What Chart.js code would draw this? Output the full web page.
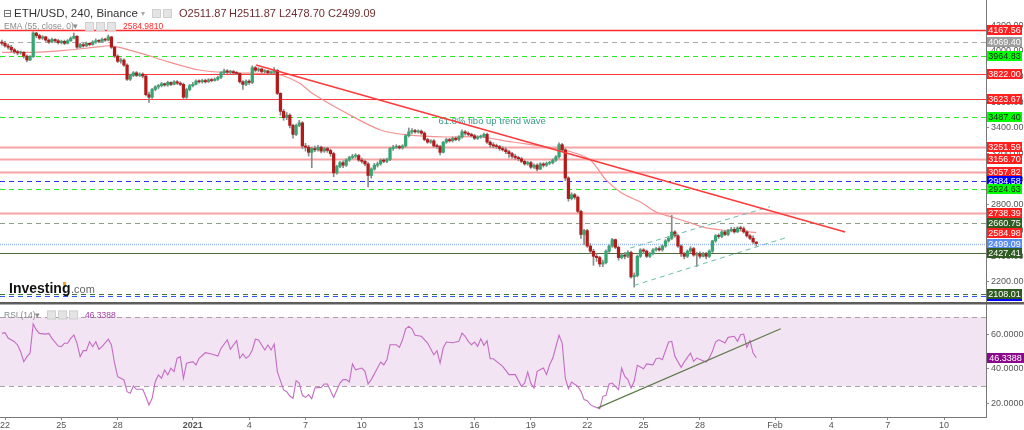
<!DOCTYPE html>
<html>
<head>
<meta charset="utf-8">
<script src="https://cdn.jsdelivr.net/npm/chart.js@4.4.1/dist/chart.umd.min.js"></script>
<style>
  html, body { margin: 0; padding: 0; background: #fff; overflow: hidden; }
  canvas { display: block; }
</style>
</head>
<body>
<canvas id="chart" width="1024" height="430"></canvas>
<script>
// 4h candles, index 0 = Dec 21 20:00, one index = 4 hours
const opens = [
  4070,4060,4040,4030,4010,3995,3985,3990,3960,3930,
  3955,4140,4120,4100,4110,4085,4070,4090,4080,4065,
  4075,4060,4080,4100,4115,4030,4050,4040,4060,4050,
  4070,4080,4075,4090,4085,4110,4030,3960,3920,3930,
  3890,3780,3810,3830,3810,3820,3805,3660,3640,3700,
  3720,3730,3745,3735,3755,3740,3760,3750,3740,3640,
  3700,3730,3740,3765,3760,3770,3760,3775,3770,3780,
  3795,3830,3845,3835,3840,3830,3825,3760,3740,3765,
  3755,3870,3850,3860,3840,3845,3830,3835,3850,3670,
  3530,3480,3500,3420,3350,3420,3440,3260,3250,3210,
  3240,3230,3250,3220,3240,3225,3200,3050,3100,3130,
  3110,3150,3170,3180,3185,3150,3140,3120,3030,3080,
  3110,3120,3150,3140,3155,3240,3250,3255,3245,3260,
  3340,3370,3380,3370,3375,3360,3310,3290,3300,3260,
  3255,3210,3290,3310,3300,3320,3310,3330,3370,3360,
  3350,3340,3320,3330,3335,3350,3290,3270,3260,3255,
  3240,3230,3215,3200,3180,3170,3160,3140,3120,3130,
  3095,3110,3080,3120,3110,3125,3130,3150,3175,3270,
  3230,3010,2850,2880,2860,2750,2570,2600,2480,2440,
  2400,2390,2340,2350,2440,2480,2530,2470,2390,2410,
  2400,2430,2240,2250,2400,2450,2440,2400,2420,2450,
  2460,2450,2480,2520,2540,2590,2560,2480,2420,2400,
  2440,2460,2410,2420,2400,2420,2400,2440,2520,2560,
  2555,2590,2570,2600,2610,2590,2620,2615,2590,2560,
  2540,2511.87
];
const closes = [
  4060,4040,4030,4010,3995,3985,3990,3960,3930,3955,
  4140,4120,4100,4110,4085,4070,4090,4080,4065,4075,
  4060,4080,4100,4115,4030,4050,4040,4060,4050,4070,
  4080,4075,4090,4085,4110,4030,3960,3920,3930,3890,
  3780,3810,3830,3810,3820,3805,3660,3640,3700,3720,
  3730,3745,3735,3755,3740,3760,3750,3740,3640,3700,
  3730,3740,3765,3760,3770,3760,3775,3770,3780,3795,
  3830,3845,3835,3840,3830,3825,3760,3740,3765,3755,
  3870,3850,3860,3840,3845,3830,3835,3850,3670,3530,
  3480,3500,3420,3350,3420,3440,3260,3250,3210,3240,
  3230,3250,3220,3240,3225,3200,3050,3100,3130,3110,
  3150,3170,3180,3185,3150,3140,3120,3030,3080,3110,
  3120,3150,3140,3155,3240,3250,3255,3245,3260,3340,
  3370,3380,3370,3375,3360,3310,3290,3300,3260,3255,
  3210,3290,3310,3300,3320,3310,3330,3370,3360,3350,
  3340,3320,3330,3335,3350,3290,3270,3260,3255,3240,
  3230,3215,3200,3180,3170,3160,3140,3120,3130,3095,
  3110,3080,3120,3110,3125,3130,3150,3175,3270,3230,
  3010,2850,2880,2860,2750,2570,2600,2480,2440,2400,
  2390,2340,2350,2440,2480,2530,2470,2390,2410,2400,
  2430,2240,2250,2400,2450,2440,2400,2420,2450,2460,
  2450,2480,2520,2540,2590,2560,2480,2420,2400,2440,
  2460,2410,2420,2400,2420,2400,2440,2520,2560,2555,
  2590,2570,2600,2610,2590,2620,2615,2590,2560,2540,
  2511.87,2499.09
];
const highs = [
  4085,4075,4055,4045,4020,4005,4000,3995,3970,3965,
  4150,4145,4130,4120,4115,4095,4100,4095,4090,4085,
  4085,4090,4110,4140,4120,4060,4060,4070,4065,4080,
  4095,4090,4100,4100,4125,4115,4035,3970,3945,3940,
  3900,3820,3840,3840,3830,3830,3810,3680,3710,3730,
  3740,3755,3750,3765,3760,3770,3770,3760,3750,3710,
  3740,3755,3775,3775,3780,3780,3785,3785,3790,3805,
  3840,3860,3855,3850,3850,3840,3830,3770,3775,3775,
  3885,3880,3870,3865,3855,3850,3845,3870,3855,3675,
  3545,3520,3510,3430,3430,3460,3450,3280,3265,3250,
  3260,3265,3260,3250,3250,3235,3210,3110,3140,3145,
  3160,3180,3195,3200,3195,3165,3150,3130,3090,3125,
  3135,3160,3160,3165,3250,3265,3270,3265,3270,3350,
  3400,3395,3390,3385,3385,3370,3320,3310,3310,3275,
  3265,3295,3320,3320,3330,3330,3340,3385,3380,3370,
  3360,3350,3340,3345,3360,3360,3300,3285,3275,3265,
  3255,3245,3225,3210,3195,3180,3170,3150,3140,3140,
  3120,3120,3130,3130,3135,3140,3160,3185,3285,3280,
  3240,3020,2895,2890,2870,2760,2610,2610,2500,2455,
  2420,2400,2370,2450,2490,2540,2535,2480,2420,2430,
  2445,2440,2270,2410,2460,2460,2450,2430,2460,2470,
  2475,2490,2530,2555,2720,2600,2570,2490,2430,2450,
  2475,2470,2430,2435,2430,2430,2450,2525,2570,2575,
  2600,2600,2610,2625,2625,2630,2635,2630,2600,2570,
  2560,2511.87
];
const lows = [
  4045,4030,4015,3995,3980,3970,3975,3945,3915,3925,
  3950,4105,4090,4090,4075,4060,4065,4070,4055,4055,
  4050,4055,4075,4095,4020,4025,4030,4035,4040,4045,
  4060,4065,4070,4075,4080,4020,3950,3910,3905,3880,
  3770,3770,3800,3800,3800,3790,3650,3600,3630,3690,
  3705,3720,3725,3725,3730,3735,3740,3730,3630,3630,
  3690,3720,3735,3750,3750,3750,3755,3760,3765,3770,
  3785,3820,3825,3825,3820,3815,3750,3700,3730,3740,
  3745,3840,3840,3830,3830,3820,3820,3825,3660,3500,
  3460,3465,3400,3320,3340,3410,3240,3220,3180,3090,
  3215,3220,3205,3210,3210,3180,3020,3040,3090,3090,
  3100,3140,3160,3165,3140,3125,3105,2940,3010,3070,
  3095,3110,3130,3130,3145,3225,3240,3235,3235,3250,
  3330,3355,3360,3360,3350,3300,3280,3280,3250,3240,
  3190,3205,3280,3290,3290,3300,3300,3320,3345,3340,
  3330,3310,3310,3320,3325,3280,3250,3245,3240,3225,
  3220,3200,3170,3165,3155,3145,3130,3110,3110,3085,
  3085,3065,3075,3095,3100,3115,3120,3140,3165,3220,
  2990,2830,2840,2845,2740,2540,2490,2470,2420,2330,
  2360,2320,2320,2340,2430,2470,2460,2370,2380,2380,
  2390,2230,2160,2240,2390,2420,2390,2390,2410,2440,
  2440,2440,2470,2510,2530,2550,2470,2400,2380,2390,
  2430,2400,2320,2385,2395,2380,2390,2430,2510,2540,
  2545,2560,2560,2590,2580,2585,2600,2580,2550,2530,
  2500,2478.70
];

// EMA(55): candle index / value
const emaIdx = [0, 10, 20, 30, 35, 44, 53, 63, 72, 82, 88, 95, 99, 110, 121, 130, 142, 153, 163, 174, 182, 188, 193, 198, 204, 209, 214, 220, 225, 230, 236, 241];
const emaVal = [3990, 3990, 4005, 4030, 4040, 3985, 3917, 3852, 3831, 3826, 3821, 3751, 3673, 3517, 3384, 3345, 3330, 3330, 3291, 3252, 3213, 3151, 2995, 2893, 2823, 2745, 2706, 2660, 2621, 2605, 2597, 2584.98];

// RSI(14): candle index / value
const rsiIdx = [0,1,2,4,5,6,7,8,9,10,11,12,14,15,16,18,19,20,21,22,23,24,25,26,27,28,29,30,31,32,34,35,36,37,38,39,40,41,42,43,45,46,47,48,49,50,51,52,53,54,55,56,57,58,59,61,62,63,65,67,69,70,72,73,75,76,77,78,79,80,81,82,84,85,86,87,88,90,91,92,93,94,95,96,97,98,99,100,102,103,104,106,108,109,110,111,112,113,115,116,117,118,120,121,122,123,124,126,127,128,129,130,131,132,134,136,138,139,140,141,142,144,146,147,148,149,150,151,152,153,154,155,156,157,160,162,164,166,167,168,169,170,171,173,174,175,176,178,179,180,181,182,184,185,186,187,188,189,191,192,193,194,195,197,198,199,200,201,202,203,205,206,208,209,210,211,213,214,215,217,218,219,220,221,222,224,225,226,227,228,229,230,231,232,234,235,236,237,238,239,240,241];
const rsiVal = [60.5,60.9,57.8,55.7,53.8,49.9,44.1,47,49,66,62.5,60.5,60.1,60.5,57.6,53.2,52.8,54.8,54.8,57.6,59.6,54.9,47,50.5,50.5,55.7,52.8,55.7,51.3,52.8,57.1,53.8,43.2,35.4,34.5,33.5,26.7,25.8,30,28.1,28.1,23.8,19,22.9,32.5,36.4,34.5,39.3,36.4,40.3,38.3,46.1,47,34.5,43.2,44.1,42.2,46.1,49.3,48.6,47.4,51.8,56.7,51.3,56.3,46.1,48.6,46.1,47.4,50.9,57.1,56.7,50.9,53.8,50.9,54.3,38.3,27.7,26.7,24.2,22.9,33.1,31.7,24.6,23.4,25,22.6,28.8,29.2,31.2,31.2,23.4,31.7,33.7,33.7,32.3,42.8,39.4,40.4,38.5,31.2,33.7,40.4,43.9,42.3,45.2,53.9,53.9,52.4,56.8,63.2,64.6,63.2,59.4,58.8,54.9,48.1,50.5,43.3,52,55.5,55.1,55.9,60.7,58.8,55.9,53.9,55.5,53,57.4,53.6,56.3,45.8,45.8,41.4,36.6,36.6,29.8,31.7,38.1,31.5,28.8,38.5,40.4,36.6,42.3,46.2,59.4,54.9,34.6,28.4,32.3,29.8,26.9,22.1,21.5,19.2,18.2,16.8,24,24.6,31.2,31.7,27.9,40.4,35.6,33.7,28.8,32.7,42,40,42.8,42.3,45.8,46.2,45.2,55.5,55.9,47.2,40.8,43.9,46.6,49.1,44.3,46.2,44.7,43.9,46.2,50.1,55.5,56.8,55.9,54.9,58.2,58.8,55.9,59.7,60.1,52.4,56.3,49.1,46.34];

// drawn lines: [index, price] end points
const trendLine = [[81.2, 3891], [269.4, 2590]];
const channelLow = [[202, 2173], [250.2, 2543]];
const channelHigh = [[200.7, 2464], [245.4, 2787]];
const rsiTrend = [[190.4, 17.3], [248.8, 63.2]];

// horizontal levels
const levelPrices = [4167.56, 4069.40, 3964.83, 3822.00, 3623.67, 3487.40, 3251.59, 3156.70, 3057.82, 2984.58, 2924.63, 2738.39, 2660.75, 2499.09, 2427.41, 2092.00, 2108.01];
const emaLast = 2584.98;
const rsiLast = 46.3388;

// x axis
const dateTickIdx = [1, 19, 37, 61, 79, 97, 115, 133, 151, 169, 187, 205, 223, 247, 265, 283, 301];
const dateTickLabels = ['22', '25', '28', '2021', '4', '7', '10', '13', '16', '19', '22', '25', '28', 'Feb', '4', '7', '10'];
const priceTicks = [2200, 2400, 2600, 2800, 3000, 3200, 3400, 3600, 3800, 4000, 4200];
const rsiTicks = [20, 40, 60];

const RED = '#ff1f1f', LIME = '#22ee22', PINK = '#f7a3a3', DKGREEN = '#2f5a22';
const levelStyles = [
  { line: '#ff2a2a', width: 1.5, dash: [], box: RED, text: '#fff' },
  { line: '#aaaaaa', width: 1, dash: [5, 4], box: '#9e9e9e', text: '#fff' },
  { line: LIME, width: 1, dash: [5, 4], box: '#00ff00', text: '#222' },
  { line: '#ff3a3a', width: 1.2, dash: [], box: RED, text: '#fff' },
  { line: '#ff3a3a', width: 1.2, dash: [], box: RED, text: '#fff' },
  { line: LIME, width: 1, dash: [5, 4], box: '#00ff00', text: '#222' },
  { line: PINK, width: 2, dash: [], box: RED, text: '#fff' },
  { line: PINK, width: 2, dash: [], box: RED, text: '#fff' },
  { line: PINK, width: 2, dash: [], box: RED, text: '#fff' },
  { line: '#2233ff', width: 1, dash: [5, 4], box: '#0000ff', text: '#fff' },
  { line: LIME, width: 1, dash: [5, 4], box: '#00ff00', text: '#222' },
  { line: PINK, width: 2, dash: [], box: RED, text: '#fff' },
  { line: '#8e9e80', width: 1.2, dash: [5, 4], box: DKGREEN, text: '#fff' },
  { line: '#9db8f5', width: 1.5, dash: [1, 1], box: '#5b8def', text: '#fff' },
  { line: '#4c6b3c', width: 1, dash: [], box: DKGREEN, text: '#fff' },
  { line: '#3355ff', width: 1, dash: [5, 4], box: '#0000ff', text: '#fff' },
  { line: '#3d7a2d', width: 1, dash: [5, 4], box: DKGREEN, text: '#fff' }
];

const UP = '#35a572', DOWN = '#b31b1b', WICK = '#8a8a8a';
const FONT = '"Liberation Sans", Arial, sans-serif';

const pts = (xs, ys) => xs.map((x, i) => ({ x, y: ys[i] }));
const seg = arr => arr.map(p => ({ x: p[0], y: p[1] }));

function drawBox(ctx, x, y, w, h, bg, fg, text) {
  ctx.fillStyle = bg;
  ctx.fillRect(x, Math.round(y - h / 2), w, h);
  ctx.fillStyle = fg;
  ctx.font = '9px ' + FONT;
  ctx.textAlign = 'center';
  ctx.textBaseline = 'middle';
  ctx.fillText(text, x + w / 2, Math.round(y) + 0.5);
}

function iconBoxes(ctx, x0, y, n) {
  for (let k = 0; k < n; k++) {
    ctx.fillStyle = '#e4e4e4';
    ctx.fillRect(x0 + k * 11, y - 5, 9, 9);
    ctx.strokeStyle = '#cfcfcf';
    ctx.lineWidth = 1;
    ctx.strokeRect(x0 + k * 11 + 0.5, y - 4.5, 8, 8);
  }
}

const panePlugin = {
  id: 'panes',
  beforeDatasetsDraw(chart) {
    const { ctx, chartArea, scales } = chart;
    const y = scales.y, r = scales.y2;
    ctx.save();
    // RSI band
    ctx.fillStyle = '#f2e4f2';
    const t = r.getPixelForValue(70), b = r.getPixelForValue(30);
    ctx.fillRect(chartArea.left, t, chartArea.right - chartArea.left, b - t);
    ctx.strokeStyle = '#a8a0a8';
    ctx.lineWidth = 1;
    ctx.setLineDash([5, 4]);
    [t, b].forEach(py => {
      ctx.beginPath();
      ctx.moveTo(chartArea.left, Math.round(py) + 0.5);
      ctx.lineTo(chartArea.right, Math.round(py) + 0.5);
      ctx.stroke();
    });
    // price levels
    levelPrices.forEach((p, i) => {
      const s = levelStyles[i];
      const py = Math.round(y.getPixelForValue(p)) + 0.5;
      ctx.strokeStyle = s.line;
      ctx.lineWidth = s.width;
      ctx.setLineDash(s.dash);
      ctx.beginPath();
      ctx.moveTo(chartArea.left, py);
      ctx.lineTo(chartArea.right, py);
      ctx.stroke();
    });
    ctx.setLineDash([]);
    // fibo note
    ctx.fillStyle = '#3c9a8c';
    ctx.font = '9.5px ' + FONT;
    ctx.textAlign = 'left';
    ctx.textBaseline = 'middle';
    ctx.fillText('61.8% fibo up trend wave', scales.x.getPixelForValue(139.5), y.getPixelForValue(3448));
    ctx.restore();
  },
  afterDraw(chart) {
    const { ctx, scales } = chart;
    const y = scales.y, r = scales.y2;
    ctx.save();
    // pane separator
    const sep = y.bottom;
    ctx.fillStyle = '#5e5e5e';
    ctx.fillRect(0, sep, 1024, 2.5);
    // right-side value boxes
    const bx = y.left + 1, bw = 35, bh = 10;
    levelPrices.forEach((p, i) => {
      const s = levelStyles[i];
      drawBox(ctx, bx, y.getPixelForValue(p), bw, bh, s.box, s.text, p.toFixed(2));
      if (i === 12) drawBox(ctx, bx, y.getPixelForValue(emaLast), bw, bh, RED, '#fff', emaLast.toFixed(2));
    });
    drawBox(ctx, bx, r.getPixelForValue(rsiLast), bw + 2, bh, '#8b0a8b', '#fff', rsiLast.toFixed(4));

    // legends
    ctx.textAlign = 'left';
    ctx.textBaseline = 'middle';
    ctx.strokeStyle = '#777';
    ctx.lineWidth = 1;
    ctx.strokeRect(4.5, 10.5, 6, 6);
    ctx.beginPath(); ctx.moveTo(5.5, 13.5); ctx.lineTo(10, 13.5); ctx.stroke();
    ctx.font = '11.5px ' + FONT;
    ctx.fillStyle = '#333';
    ctx.fillText('ETH/USD, 240, Binance', 14, 14);
    ctx.fillStyle = '#aaa';
    ctx.font = '8px ' + FONT;
    ctx.fillText('\u25BE', 141, 14);
    iconBoxes(ctx, 152, 14, 2);
    ctx.font = '11px ' + FONT;
    ctx.fillStyle = '#6e2d2d';
    ctx.fillText('O' + opens[opens.length - 1].toFixed(2), 179, 14);
    ctx.fillText('H' + highs[highs.length - 1].toFixed(2), 229, 14);
    ctx.fillText('L' + lows[lows.length - 1].toFixed(2), 279, 14);
    ctx.fillText('C' + closes[closes.length - 1].toFixed(2), 328, 14);

    ctx.font = '8.5px ' + FONT;
    ctx.fillStyle = '#8a8a8a';
    ctx.fillText('EMA (55, close, 0)', 4, 27);
    ctx.fillText('\u25BE', 73, 27);
    iconBoxes(ctx, 85, 27, 3);
    ctx.fillStyle = '#ff2a2a';
    ctx.fillText('2584.9810', 123, 27);

    ctx.fillStyle = '#8a8a8a';
    ctx.fillText('RSI (14)', 4, 315.5);
    ctx.fillText('\u25BE', 35, 315.5);
    iconBoxes(ctx, 47, 315.5, 3);
    ctx.fillStyle = '#a23ea2';
    ctx.fillText(rsiLast.toFixed(4), 85, 315.5);

    // Investing.com mark
    ctx.font = 'bold 14px ' + FONT;
    ctx.fillStyle = '#111';
    ctx.textBaseline = 'alphabetic';
    ctx.fillText('Investing', 9, 293);
    ctx.font = '11px ' + FONT;
    ctx.fillStyle = '#666';
    ctx.fillText('.com', 71, 293);
    ctx.fillStyle = '#f7a21b';
    ctx.fillRect(63, 282, 3, 3);
    ctx.restore();
  }
};

const hideFit = w => scale => {
  scale.width = w;
  scale.paddingTop = 0;
  scale.paddingBottom = 0;
};

new Chart(document.getElementById('chart'), {
  type: 'bar',
  data: {
    datasets: [
      {
        label: 'trend',
        type: 'line',
        data: seg(trendLine),
        borderColor: '#ff3a3a',
        borderWidth: 1.5,
        pointRadius: 0,
        yAxisID: 'y',
        order: 0
      },
      {
        label: 'channel low',
        type: 'line',
        data: seg(channelLow),
        borderColor: '#6cbcae',
        borderWidth: 1,
        borderDash: [5, 4],
        pointRadius: 0,
        yAxisID: 'y',
        order: 0
      },
      {
        label: 'channel high',
        type: 'line',
        data: seg(channelHigh),
        borderColor: '#6cbcae',
        borderWidth: 1,
        borderDash: [5, 4],
        pointRadius: 0,
        yAxisID: 'y',
        order: 0
      },
      {
        label: 'body',
        data: closes.map((c, i) => ({ x: i, y: [opens[i], c] })),
        backgroundColor: closes.map((c, i) => (c >= opens[i] ? UP : DOWN)),
        barThickness: 2.6,
        minBarLength: 1,
        grouped: false,
        yAxisID: 'y',
        order: 1
      },
      {
        label: 'wick',
        data: highs.map((h, i) => ({ x: i, y: [lows[i], h] })),
        backgroundColor: WICK,
        barThickness: 1,
        grouped: false,
        yAxisID: 'y',
        order: 2
      },
      {
        label: 'EMA',
        type: 'line',
        data: pts(emaIdx, emaVal),
        borderColor: '#f59090',
        borderWidth: 1.2,
        pointRadius: 0,
        tension: 0.3,
        yAxisID: 'y',
        order: 3
      },
      {
        label: 'RSI',
        type: 'line',
        data: pts(rsiIdx, rsiVal),
        borderColor: '#c46bc4',
        borderWidth: 1.1,
        pointRadius: 0,
        yAxisID: 'y2',
        order: 1
      },
      {
        label: 'RSI trend',
        type: 'line',
        data: seg(rsiTrend),
        borderColor: '#5e7a48',
        borderWidth: 1.2,
        pointRadius: 0,
        yAxisID: 'y2',
        order: 0
      }
    ]
  },
  options: {
    responsive: false,
    animation: false,
    devicePixelRatio: 1,
    events: [],
    layout: { padding: 0 },
    plugins: { legend: { display: false }, tooltip: { enabled: false } },
    scales: {
      x: {
        type: 'linear',
        min: -0.6,
        max: 314.4,
        offset: false,
        grid: { drawOnChartArea: false, offset: false, tickLength: 3, color: '#888' },
        border: { color: '#777', width: 1 },
        ticks: {
          autoSkip: false,
          maxRotation: 0,
          padding: 0,
          color: '#555',
          font: c => ({ family: FONT, size: 9, weight: c.tick && c.tick.value === 61 ? 'bold' : 'normal' }),
          callback: v => dateTickLabels[dateTickIdx.indexOf(v)]
        },
        afterBuildTicks: s => { s.ticks = dateTickIdx.map(v => ({ value: v })); },
        afterFit: s => { s.height = 13; s.paddingLeft = 0; s.paddingRight = 0; }
      },
      y: {
        type: 'linear',
        position: 'right',
        stack: 'panes',
        stackWeight: 302,
        min: 2043.8,
        max: 4397.6,
        grid: { drawOnChartArea: false, tickLength: 3, color: '#888' },
        border: { color: '#777', width: 1 },
        ticks: { color: '#555', padding: 2, font: { family: FONT, size: 9 }, callback: v => v.toFixed(2) },
        afterBuildTicks: s => { s.ticks = priceTicks.map(v => ({ value: v })); },
        afterFit: hideFit(38)
      },
      y2: {
        type: 'linear',
        position: 'right',
        stack: 'panes',
        stackWeight: 115,
        min: 12.03,
        max: 78.7,
        grid: { drawOnChartArea: false, tickLength: 3, color: '#888' },
        border: { color: '#777', width: 1 },
        ticks: { color: '#555', padding: 2, font: { family: FONT, size: 9 }, callback: v => v.toFixed(4) },
        afterBuildTicks: s => { s.ticks = rsiTicks.map(v => ({ value: v })); },
        afterFit: hideFit(38)
      }
    }
  },
  plugins: [panePlugin]
});
</script>
</body>
</html>
